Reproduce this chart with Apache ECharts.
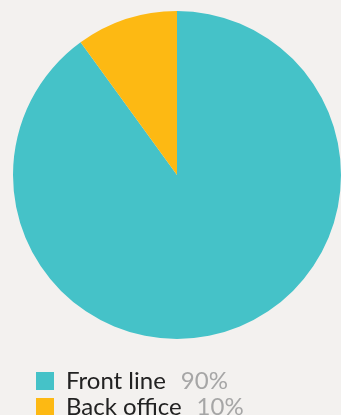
<!DOCTYPE html>
<html>
<head>
<meta charset="utf-8">
<script src="https://cdn.jsdelivr.net/npm/echarts@6/dist/echarts.min.js"></script>
<style>
  html, body { margin: 0; padding: 0; background: #f3f1ef; }
  #chart { width: 341px; height: 415px; }
</style>
</head>
<body>
<div id="chart"></div>
<script>
// Staff split by role
const categories = ['Front line', 'Back office'];
const shares = [90, 10];
const colors = ['#45c2c8', '#fdb913'];
const legendTops = [369, 395];

const chart = echarts.init(document.getElementById('chart'), null, { renderer: 'canvas' });

const pieData = categories.map((name, i) => ({
  name: name,
  value: shares[i],
  itemStyle: { color: colors[i] }
}));

// one legend row per category, stacked under the pie
const legends = categories.map((name, i) => ({
  data: [name],
  orient: 'vertical',
  left: 36,
  top: legendTops[i],
  padding: 0,
  itemWidth: 18,
  itemHeight: 18,
  icon: 'rect',
  selectedMode: false,
  formatter: function (n) {
    return '{n|' + n + '}{p|' + shares[categories.indexOf(n)] + '%}';
  },
  textStyle: {
    rich: {
      n: { fontFamily: 'Lato', fontSize: 24, color: '#222222', padding: [0, 15, 0, 7] },
      p: { fontFamily: 'Lato', fontSize: 24, color: '#a6a6a6' }
    }
  }
}));

chart.setOption({
  backgroundColor: '#f3f1ef',
  animation: false,
  legend: legends,
  series: [{
    type: 'pie',
    center: [177, 175],
    radius: [0, 164],
    startAngle: 90,
    clockwise: true,
    label: { show: false },
    labelLine: { show: false },
    emphasis: { disabled: true },
    itemStyle: { borderWidth: 0 },
    data: pieData
  }]
});
</script>
</body>
</html>
